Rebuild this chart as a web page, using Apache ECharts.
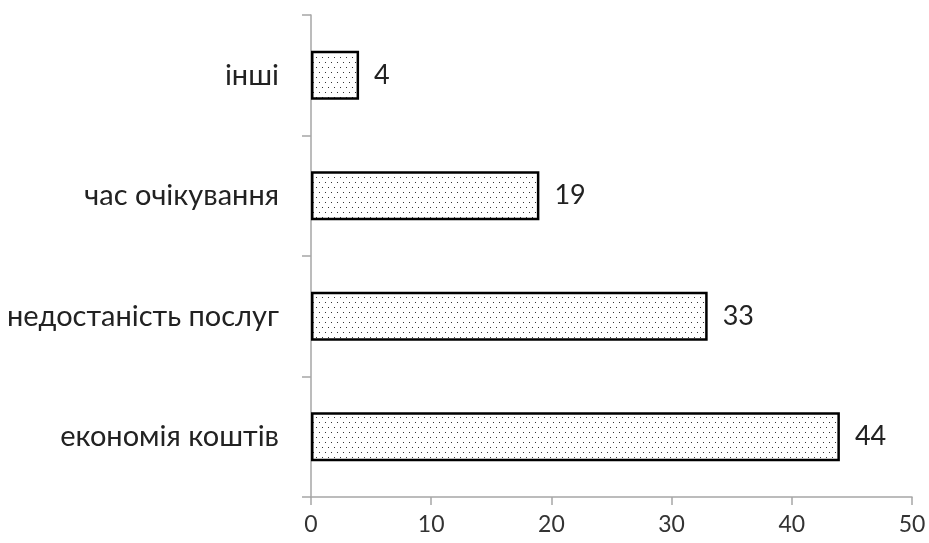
<!DOCTYPE html>
<html><head><meta charset="utf-8">
<script src="https://cdn.jsdelivr.net/npm/echarts@6/dist/echarts.min.js"></script>
<style>html,body{margin:0;padding:0;background:#fff}#c{width:929px;height:543px}</style>
</head><body><div id="c"></div>
<script>
const categories = ['економія коштів', 'недостаність послуг', 'час очікування', 'інші'];
const values = [44, 33, 19, 4];
const xTicks = [0, 10, 20, 30, 40, 50];

const tile = document.createElement('canvas');
tile.width = 6; tile.height = 10;
const tc = tile.getContext('2d');
tc.fillStyle = '#fff'; tc.fillRect(0, 0, 6, 10);
tc.fillStyle = '#333';
tc.fillRect(1, 2, 1, 1);
tc.fillRect(4, 7, 1, 1);

const chart = echarts.init(document.getElementById('c'));
const font = 'Lato, "Open Sans", sans-serif';
chart.setOption({
  animation: false,
  grid: { left: 311, right: 17, top: 15, bottom: 46 },
  xAxis: {
    type: 'value', min: xTicks[0], max: xTicks[xTicks.length - 1], interval: 10,
    splitLine: { show: false },
    axisLine: { show: true, lineStyle: { color: '#a6a6a6', width: 1.5 } },
    axisTick: { show: true, length: 8, lineStyle: { color: '#a6a6a6', width: 1.5 } },
    axisLabel: { fontSize: 23, color: '#333', margin: 16, fontFamily: font }
  },
  yAxis: {
    type: 'category', data: categories,
    axisLine: { show: true, lineStyle: { color: '#a6a6a6', width: 1.5 } },
    axisTick: { show: true, length: 9, lineStyle: { color: '#a6a6a6', width: 1.5 } },
    axisLabel: { fontSize: 29, color: '#222', margin: 32, fontFamily: font }
  },
  series: [{
    type: 'bar', data: values, barWidth: 49,
    itemStyle: { color: { image: tile, repeat: 'repeat' }, borderColor: '#000', borderWidth: 2.5 },
    label: { show: true, position: 'right', distance: 15, fontSize: 27, color: '#222', fontFamily: font }
  }]
});
</script></body></html>
